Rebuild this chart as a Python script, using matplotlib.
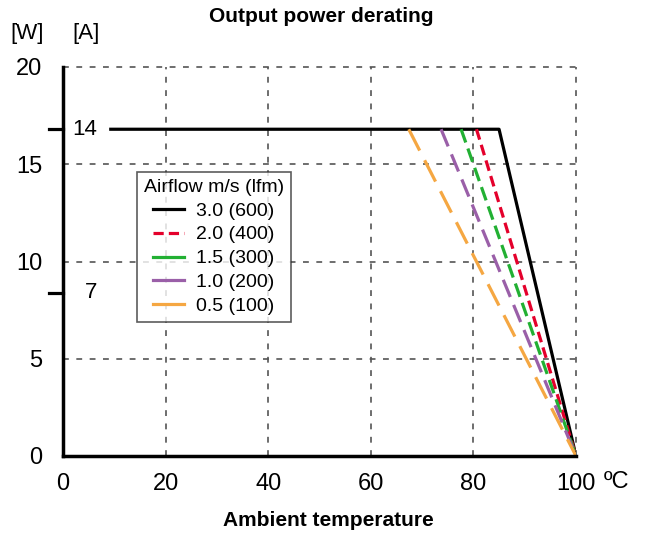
import matplotlib
matplotlib.use('Agg')
import matplotlib.pyplot as plt
from matplotlib.lines import Line2D

plt.rcParams['font.family'] = ['Liberation Sans', 'DejaVu Sans']

# derating curves: flat at full power until the knee, then down to 0 W at 100 C
full_power = 16.8          # 14 A * 1.2
labels = ['3.0 (600)', '2.0 (400)', '1.5 (300)', '1.0 (200)', '0.5 (100)']
knee_temps = [85, 80.6, 77.6, 73.7, 67.4]
start_temps = [9, 80.6, 77.6, 73.7, 67.4]
colors = ['#000000', '#e4002b', '#22b033', '#9a5fa8', '#f5a742']
amp_ticks = [14, 7]
w_ticks = [0, 5, 10, 15, 20]
x_ticks = [0, 20, 40, 60, 80, 100]


def main():
	fig = plt.figure(figsize=(6.51, 5.36), dpi=100)
	ax = fig.add_axes([63/651, 80/536, 513/651, 389/536])

	dashes = [None, (3.4, 1.7), (4.4, 2.0), (5.8, 2.7), (7.5, 3.4)]
	handles = []
	for lab, t0, tk, c, d in zip(labels, start_temps, knee_temps, colors, dashes):
		kw = {}
		if d is not None:
			kw['dashes'] = d
		ax.plot([t0, tk, 100], [full_power, full_power, 0], color=c, lw=2.3,
			solid_capstyle='butt', dash_capstyle='butt', **kw)
		# legend sample is shorter than one long dash, so only red shows a gap
		if d is not None and d[0] < 4:
			handles.append(Line2D([], [], color=c, lw=2.3, dashes=(3.2, 1.6), label=lab))
		else:
			handles.append(Line2D([], [], color=c, lw=2.3, label=lab))

	ax.set_xlim(0, 100)
	ax.set_ylim(0, 20)

	for x in x_ticks[1:]:
		ax.axvline(x, color='#555555', lw=1.2, ls=(0, (3.5, 4.5)), zorder=0, clip_on=False)
	for y in w_ticks[1:]:
		ax.axhline(y, color='#555555', lw=1.2, ls=(0, (3.5, 4.5)), zorder=0, clip_on=False)

	for s in ['top', 'right']:
		ax.spines[s].set_visible(False)
	ax.spines['left'].set_linewidth(2.5)
	ax.spines['bottom'].set_linewidth(2.5)

	ax.set_xticks(x_ticks)
	ax.set_xticklabels([str(v) for v in x_ticks], fontsize=17)
	ax.set_yticks(w_ticks)
	ax.set_yticklabels([str(v) for v in w_ticks], fontsize=17)
	ax.tick_params(axis='both', length=0)
	ax.tick_params(axis='y', pad=15)
	ax.tick_params(axis='x', pad=12)

	# amp ticks on the left
	for a in amp_ticks:
		yw = a * 1.2
		ax.plot([-2.7, 0], [yw, yw], color='black', lw=2.3, clip_on=False)
		ax.text(6.7, yw, str(a), fontsize=16, va='center', ha='right')

	fig.text(27/651, 1 - 33/536, '[W]', fontsize=16, ha='center', va='center')
	fig.text(86/651, 1 - 33/536, '[A]', fontsize=16, ha='center', va='center')
	fig.text(321/651, 1 - 16/536, 'Output power derating', fontsize=15,
		fontweight='bold', ha='center', va='center')
	fig.text(328/651, 1 - 521/536, 'Ambient temperature', fontsize=15,
		fontweight='bold', ha='center', va='center')
	fig.text(617/651, 1 - 482/536, 'ºC', fontsize=17, ha='center', va='center')

	leg = ax.legend(handles=handles, title='Airflow m/s (lfm)', loc='upper left',
		bbox_to_anchor=(74/513, (456-172)/389), fontsize=14, title_fontsize=14,
		frameon=True, fancybox=False, edgecolor='#333333', handlelength=1.6,
		handletextpad=0.6, labelspacing=0.32, borderpad=0.35, borderaxespad=0)
	leg.get_frame().set_linewidth(1.2)

	fig.savefig('out.png', dpi=100)


if __name__ == '__main__':
	main()
